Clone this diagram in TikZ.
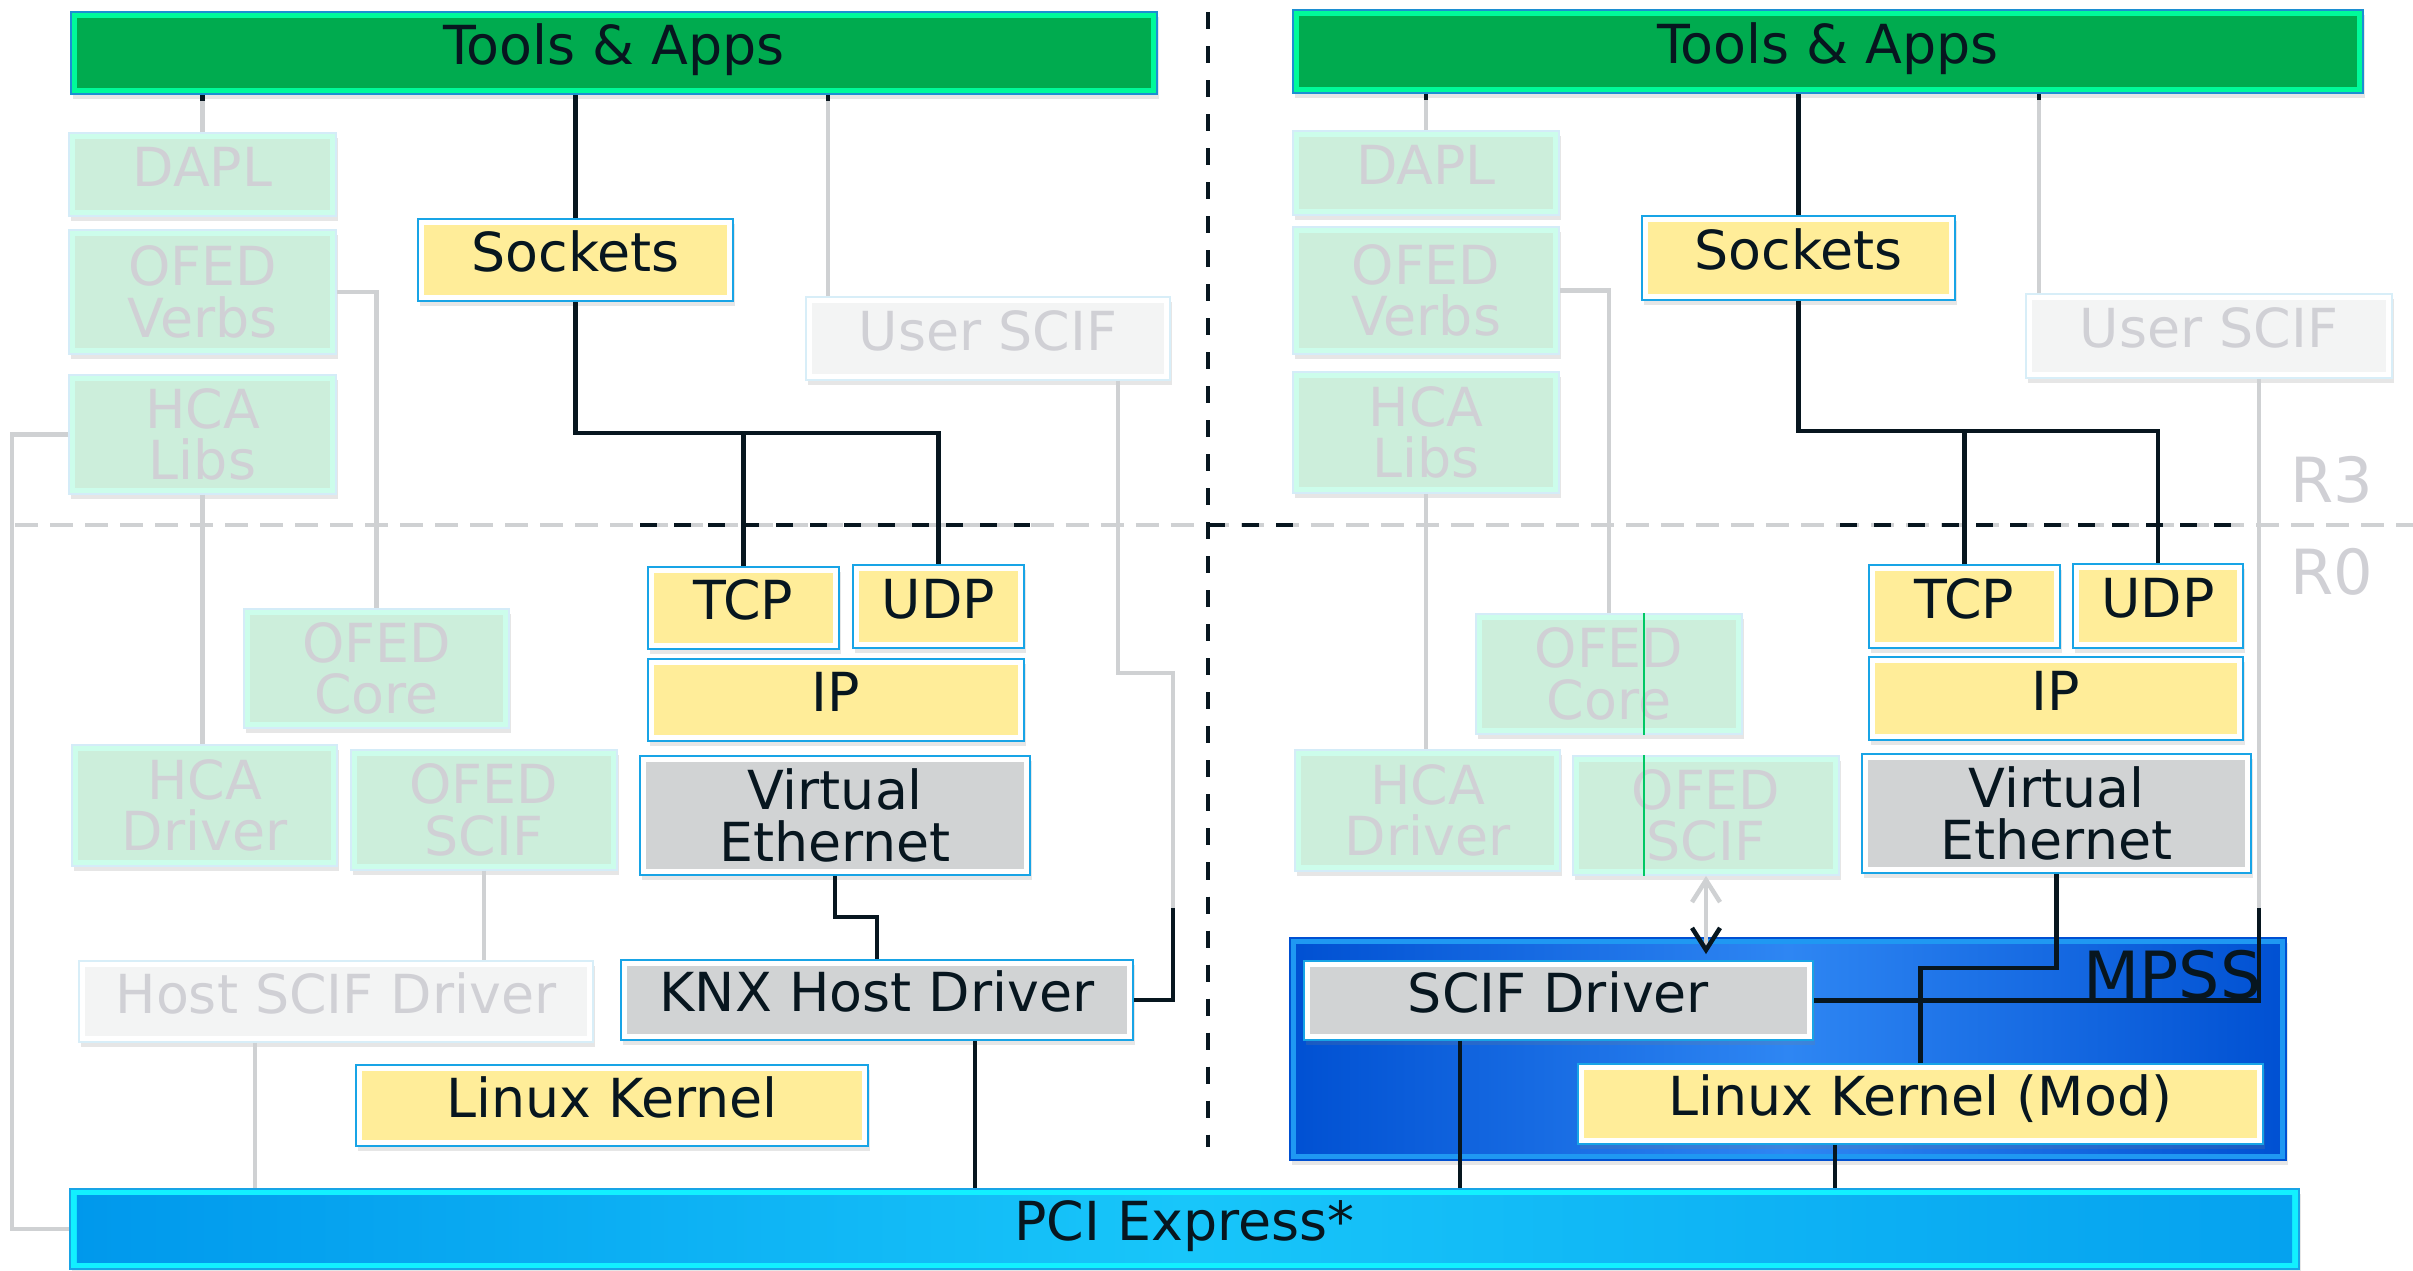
\documentclass[tikz,border=0pt]{standalone}
\usepackage{fontspec}
\setmainfont{DejaVu Sans}
\usetikzlibrary{arrows.meta,shadows,calc}

\definecolor{ink}{HTML}{07161F}
\definecolor{edge}{HTML}{18A4E6}
\definecolor{yelfill}{HTML}{FFED99}
\definecolor{grayfill}{HTML}{D1D3D4}
\definecolor{appfill}{HTML}{00AB4F}
\definecolor{appband}{HTML}{00FA9A}
\definecolor{appedge}{HTML}{1C8FD2}
\definecolor{fadefill}{HTML}{CCEEDB}
\definecolor{fadeband}{HTML}{CCFDEB}
\definecolor{fadeedge}{HTML}{D4ECF8}
\definecolor{fadetext}{HTML}{D0D0D5}
\definecolor{paleedge}{HTML}{D8EEF8}
\definecolor{palefill}{HTML}{F3F4F4}
\definecolor{gline}{HTML}{CFD1D3}
\definecolor{pciband}{HTML}{12F0FF}
\definecolor{pcidark}{HTML}{0098EC}
\definecolor{pcilight}{HTML}{18C6FA}
\definecolor{mpssband}{HTML}{1F98F2}
\definecolor{mpssdark}{HTML}{0050D2}
\definecolor{mpsslight}{HTML}{2E86F3}
\definecolor{ofedgreen}{HTML}{00C864}

\newcommand{\lblfont}{\fontsize{15.3}{14.6}\selectfont}

\tikzset{
  layer/.style = {inner sep=0pt, align=center, font=\lblfont, text=ink, line width=0.5pt,
    drop shadow={opacity=0.2, shadow xshift=0.02cm, shadow yshift=-0.05cm}},
  lift/.style = {text height=11.6pt, text depth=5pt},% one-line boxes sit a bit high
  inset/.style = {path picture={\fill[#1] ([xshift=0.065cm,yshift=-0.065cm]path picture bounding box.north west)
    rectangle ([xshift=-0.065cm,yshift=0.065cm]path picture bounding box.south east);}},
  app/.style = {layer, lift, draw=appedge, fill=appband, inset=appfill},
  yel/.style = {layer, draw=edge, fill=white, inset=yelfill},
  gry/.style = {layer, draw=edge, fill=white, inset=grayfill},
  fade/.style = {layer, draw=fadeedge, fill=fadeband, inset=fadefill, text=fadetext},
  pale/.style = {layer, lift, draw=paleedge, fill=white, inset=palefill, text=fadetext},
  pcibar/.style = {layer, lift, draw=edge, fill=pciband, inset={left color=pcidark, right color=pcidark!80!pcilight, middle color=pcilight}},
  mpssbox/.style = {layer, draw=mpssdark, fill=mpssband, inset={left color=mpssdark, right color=mpssdark, middle color=mpsslight}},
  wire/.style = {draw=ink, line width=0.045cm},
  gwire/.style = {draw=gline, line width=0.045cm},
  divider/.style = {draw=ink, line width=0.04cm, dash pattern=on 0.17cm off 0.17cm},
  gdivider/.style = {draw=gline, line width=0.04cm, dash pattern=on 0.23cm off 0.12cm},
  ring/.style = {font=\fontsize{17.7}{18}\selectfont, text=fadetext, inner sep=0pt},
}

\begin{document}
\begin{tikzpicture}[x=0.01cm, y=-0.01cm]
\useasboundingbox (0,0) rectangle (2413,1270);

% R3 / R0 split and host / card split
\draw[gdivider] (15,525) -- (2413,525);
\draw[divider] (640,525) -- (1030,525);
\draw[divider] (1208,525) -- (1293,525);
\draw[divider] (1840,525) -- (2234,525);
\draw[divider] (1208,12) -- (1208,1147);
\node[ring] (r3) at (2332,480) {R3};
\node[ring] (r0) at (2332,572) {R0};

% host side
\node[app, minimum width=10.86cm, minimum height=0.82cm] (tools1) at (614,53) {Tools \& Apps};
\node[fade, lift, minimum width=2.67cm, minimum height=0.83cm] (dapl1) at (202.5,174.5) {DAPL};
\node[fade, minimum width=2.67cm, minimum height=1.24cm] (verbs1) at (202.5,292) {OFED\\Verbs};
\node[fade, minimum width=2.67cm, minimum height=1.19cm] (libs1) at (202.5,434.5) {HCA\\Libs};
\node[yel, lift, minimum width=3.15cm, minimum height=0.82cm] (sock1) at (575.5,260) {Sockets};
\node[pale, minimum width=3.64cm, minimum height=0.83cm] (uscif1) at (988,338.5) {User SCIF};
\node[yel, lift, minimum width=1.91cm, minimum height=0.82cm] (tcp1) at (743.5,608) {TCP};
\node[yel, lift, minimum width=1.71cm, minimum height=0.83cm] (udp1) at (938.5,606.5) {UDP};
\node[yel, lift, minimum width=3.76cm, minimum height=0.82cm] (ip1) at (836,700) {IP};
\node[gry, minimum width=3.90cm, minimum height=1.19cm] (veth1) at (835,815.5) {Virtual\\Ethernet};
\node[fade, minimum width=2.65cm, minimum height=1.19cm] (core1) at (376.5,668.5) {OFED\\Core};
\node[fade, minimum width=2.65cm, minimum height=1.21cm] (hcad1) at (204.5,805.5) {HCA\\Driver};
\node[fade, minimum width=2.66cm, minimum height=1.20cm] (oscif1) at (484,810) {OFED\\SCIF};
\node[pale, minimum width=5.14cm, minimum height=0.81cm] (hscif1) at (336,1001.5) {Host SCIF Driver};
\node[gry, lift, minimum width=5.12cm, minimum height=0.80cm] (knx1) at (877,1000) {KNX Host Driver};
\node[yel, lift, minimum width=5.12cm, minimum height=0.81cm] (kern1) at (612,1105.5) {Linux Kernel};
\node[pcibar, minimum width=22.27cm, minimum height=0.80cm] (pci) at (1184.5,1229) {PCI Express*};

% card side
\node[app, minimum width=10.70cm, minimum height=0.83cm] (tools2) at (1828,51.5) {Tools \& Apps};
\node[fade, lift, minimum width=2.66cm, minimum height=0.84cm] (dapl2) at (1426,173) {DAPL};
\node[fade, minimum width=2.66cm, minimum height=1.27cm] (verbs2) at (1426,290.5) {OFED\\Verbs};
\node[fade, minimum width=2.66cm, minimum height=1.21cm] (libs2) at (1426,432.5) {HCA\\Libs};
\node[yel, lift, minimum width=3.13cm, minimum height=0.84cm] (sock2) at (1798.5,258) {Sockets};
\node[pale, minimum width=3.66cm, minimum height=0.84cm] (uscif2) at (2209,336) {User SCIF};
\node[yel, lift, minimum width=1.91cm, minimum height=0.83cm] (tcp2) at (1964.5,606.5) {TCP};
\node[yel, lift, minimum width=1.70cm, minimum height=0.84cm] (udp2) at (2158,606) {UDP};
\node[yel, lift, minimum width=3.74cm, minimum height=0.83cm] (ip2) at (2056,698.5) {IP};
\node[gry, minimum width=3.89cm, minimum height=1.19cm] (veth2) at (2056.5,813.5) {Virtual\\Ethernet};
\node[fade, minimum width=2.66cm, minimum height=1.20cm] (core2) at (1609,674) {OFED\\Core};
\node[fade, minimum width=2.65cm, minimum height=1.21cm] (hcad2) at (1427.5,810.5) {HCA\\Driver};
\node[fade, minimum width=2.66cm, minimum height=1.19cm] (oscif2) at (1706,815.5) {OFED\\SCIF};
\node[mpssbox, minimum width=9.96cm, minimum height=2.22cm] (mpss) at (1788,1049) {};
\node[font=\fontsize{18.5}{19}\selectfont, text=ink, anchor=east, inner sep=0pt] (mpsslbl) at (2262,975) {MPSS};
\node[gry, lift, minimum width=5.09cm, minimum height=0.79cm] (scifd) at (1558.5,1000.5) {SCIF Driver};
\node[yel, lift, minimum width=6.85cm, minimum height=0.80cm] (kern2) at (1920.5,1104) {Linux Kernel (Mod)};

% host side links
\draw[gwire] (dapl1.north) -- (dapl1.north |- tools1.south);
\draw[wire] (dapl1.north |- tools1.south) -- ++(0,6);
\draw[wire] (sock1.north) -- (sock1.north |- tools1.south);
\draw[gwire] (uscif1.north -| 828,0) -- (tools1.south -| 828,0);
\draw[wire] (tools1.south -| 828,0) -- ++(0,6);
\draw[gwire] (verbs1.east) -| (core1.north);
\draw[gwire] (libs1.west) -- ++(-56,0) |- (pci.west);
\draw[gwire] (libs1.south) -- (libs1.south |- hcad1.north);
\draw[gwire] (oscif1.south) -- (oscif1.south |- hscif1.north);
\draw[gwire] (hscif1.south -| 255,0) -- (pci.north -| 255,0);
\coordinate (bus1) at (sock1.south |- 0,433);
\draw[wire] (sock1.south) -- (bus1) -| (udp1.north);
\draw[wire] (tcp1.north) -- (tcp1.north |- bus1);
\draw[wire] (veth1.south) -- ++(0,41) -| (knx1.north);
\draw[gwire] (uscif1.south -| 1118,0) |- (1173,673) -- (1173,908) coordinate (knxbend);
\draw[wire] (knxbend) |- (knx1.east);
\draw[wire] (knx1.south -| 975,0) -- (pci.north -| 975,0);

% card side links
\draw[gwire] (dapl2.north) -- (dapl2.north |- tools2.south);
\draw[wire] (dapl2.north |- tools2.south) -- ++(0,6);
\draw[wire] (sock2.north) -- (sock2.north |- tools2.south);
\draw[gwire] (uscif2.north -| 2039,0) -- (tools2.south -| 2039,0);
\draw[wire] (tools2.south -| 2039,0) -- ++(0,6);
\draw[gwire] (verbs2.east) -| (core2.north);
\draw[gwire] (libs2.south) -- (libs2.south |- hcad2.north);
\coordinate (bus2) at (sock2.south |- 0,431);
\draw[wire] (sock2.south) -- (bus2) -| (udp2.north);
\draw[wire] (tcp2.north) -- (tcp2.north |- bus2);
\draw[gwire] (uscif2.south -| 2259,0) -- (2259,908) coordinate (scifbend);
\draw[wire] (scifbend) |- (scifd.east);
\draw[wire] (veth2.south) -- ++(0,94) -| (kern2.north);
\draw[wire] (scifd.south -| 1460,0) -- (pci.north -| 1460,0);
\draw[wire] (kern2.south -| 1835,0) -- (pci.north -| 1835,0);
\draw[gwire, {Straight Barb[color=gline,length=0.22cm,width=0.28cm]}-{Straight Barb[color=ink,length=0.22cm,width=0.28cm]}]
  (oscif2.south) -- ($(oscif2.south |- scifd.north)+(0,-6)$);
\draw[ofedgreen, line width=0.015cm] (core2.north -| 1644,0) -- (core2.south -| 1644,0);
\draw[ofedgreen, line width=0.015cm] (oscif2.north -| 1644,0) -- (oscif2.south -| 1644,0);
\end{tikzpicture}
\end{document}
